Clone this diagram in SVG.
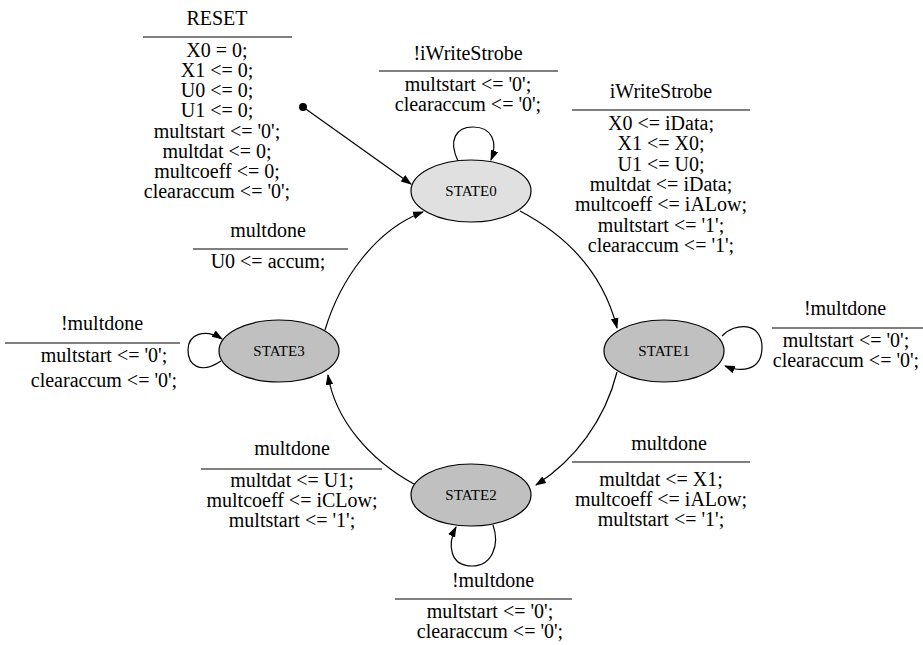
<svg xmlns="http://www.w3.org/2000/svg" width="923" height="645" viewBox="0 0 923 645">
<style>
text{font-family:'Liberation Serif','DejaVu Serif','Times New Roman',serif;font-size:20px;text-anchor:middle;fill:#000}
.st{font-size:15px}
.e{stroke:#000;stroke-width:1.2}
.c{fill:none;stroke:#000;stroke-width:1.2;marker-end:url(#a)}
.l{stroke:#000;stroke-width:1.2}
</style>
<defs><marker id="a" viewBox="0 0 10 10" refX="9" refY="5" markerWidth="11" markerHeight="11" markerUnits="userSpaceOnUse" orient="auto"><path d="M0,1.5L10,5L0,8.5z"/></marker></defs>
<rect width="923" height="645" fill="#fff"/>
<g id="connectors">
<circle cx="303" cy="107" r="4"/>
<path class="c" d="M303,107L411,184"/>
<path class="c" d="M458,161C448,140 456,127 473,127C492,127 498,142 491,160"/>
<path class="c" d="M520,211C575,240 605,280 617,328"/>
<path class="c" d="M722,336C735,322 762,322 762,347C762,372 740,372 725,366"/>
<path class="c" d="M617,372C605,420 575,460 536,485"/>
<path class="c" d="M493,525C500,545 492,566 472,566C450,566 447,545 456,527"/>
<path class="c" d="M414,484C370,460 335,420 328,375"/>
<path class="c" d="M221,361C200,375 188,365 188,350C188,334 205,328 222,339"/>
<path class="c" d="M325,330C340,280 375,230 423,212"/>
</g>
<g id="STATE0"><ellipse class="e" cx="471" cy="191" rx="60" ry="31" fill="#e0e0e0"/><text class="st" x="471" y="196">STATE0</text></g>
<g id="STATE1"><ellipse class="e" cx="664" cy="351" rx="60" ry="31" fill="#c0c0c0"/><text class="st" x="664" y="356">STATE1</text></g>
<g id="STATE2"><ellipse class="e" cx="471" cy="495" rx="60" ry="31" fill="#c0c0c0"/><text class="st" x="471" y="500">STATE2</text></g>
<g id="STATE3"><ellipse class="e" cx="279" cy="351" rx="60" ry="31" fill="#c0c0c0"/><text class="st" x="279" y="356">STATE3</text></g>
<g id="labels">
<text x="217" y="25">RESET</text><line class="l" x1="143" y1="37" x2="292" y2="37"/>
<text x="217" y="57">X0 = 0;</text><text x="217" y="77">X1 &lt;= 0;</text><text x="217" y="97">U0 &lt;= 0;</text><text x="217" y="117">U1 &lt;= 0;</text><text x="217" y="138">multstart &lt;= '0';</text><text x="217" y="158">multdat &lt;= 0;</text><text x="217" y="178">multcoeff &lt;= 0;</text><text x="217" y="198">clearaccum &lt;= '0';</text>
<text x="468" y="60">!iWriteStrobe</text><line class="l" x1="379" y1="71" x2="558" y2="71"/>
<text x="468" y="91">multstart &lt;= '0';</text><text x="468" y="111">clearaccum &lt;= '0';</text>
<text x="661" y="98">iWriteStrobe</text><line class="l" x1="572" y1="110" x2="750" y2="110"/>
<text x="661" y="130">X0 &lt;= iData;</text><text x="661" y="150">X1 &lt;= X0;</text><text x="661" y="171">U1 &lt;= U0;</text><text x="661" y="191">multdat &lt;= iData;</text><text x="661" y="211">multcoeff &lt;= iALow;</text><text x="661" y="232">multstart &lt;= '1';</text><text x="661" y="252">clearaccum &lt;= '1';</text>
<text x="845" y="315">!multdone</text><line class="l" x1="772" y1="328" x2="923" y2="328"/>
<text x="846" y="347">multstart &lt;= '0';</text><text x="846" y="367">clearaccum &lt;= '0';</text>
<text x="669" y="450">multdone</text><line class="l" x1="572" y1="462" x2="750" y2="462"/>
<text x="661" y="486">multdat &lt;= X1;</text><text x="661" y="506">multcoeff &lt;= iALow;</text><text x="661" y="526">multstart &lt;= '1';</text>
<text x="493" y="587">!multdone</text><line class="l" x1="395" y1="599" x2="572" y2="599"/>
<text x="490" y="618">multstart &lt;= '0';</text><text x="490" y="638">clearaccum &lt;= '0';</text>
<text x="292" y="455">multdone</text><line class="l" x1="201" y1="469" x2="382" y2="469"/>
<text x="292" y="487">multdat &lt;= U1;</text><text x="292" y="507">multcoeff &lt;= iCLow;</text><text x="292" y="527">multstart &lt;= '1';</text>
<text x="102" y="330">!multdone</text><line class="l" x1="5" y1="343" x2="180" y2="343"/>
<text x="104" y="362">multstart &lt;= '0';</text><text x="104" y="387">clearaccum &lt;= '0';</text>
<text x="268" y="237">multdone</text><line class="l" x1="193" y1="249" x2="348" y2="249"/>
<text x="268" y="268">U0 &lt;= accum;</text>
</g>
</svg>
